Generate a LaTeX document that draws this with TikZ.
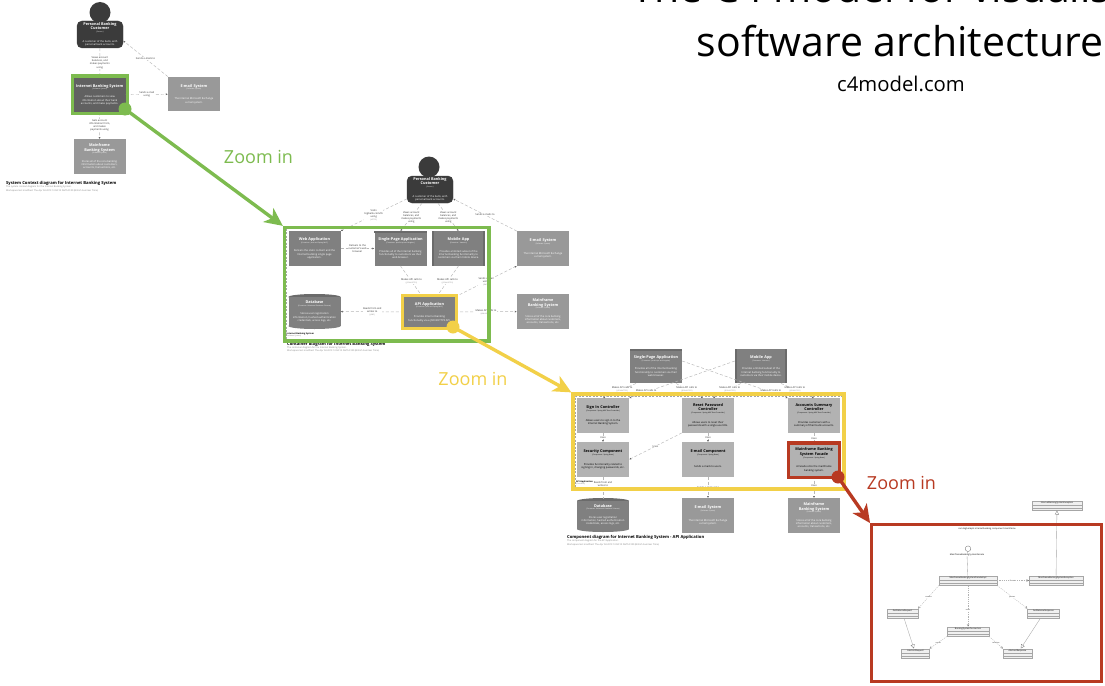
\documentclass[tikz,border=0pt]{standalone}
\usepackage{fontspec}
\setmainfont{Open Sans}
\usetikzlibrary{arrows.meta,fit}

\definecolor{zoomgreen}{HTML}{7DBB4F}
\definecolor{zoomyellow}{HTML}{F2D048}
\definecolor{zoomred}{HTML}{B83A22}
\definecolor{linegrey}{HTML}{B8B8B8}

% text inside a C4 box: name, type, description
\newcommand{\cfour}[3]{\spaceskip=0pt\xspaceskip=0pt{\fontsize{3.8}{4.5}\selectfont\bfseries #1\par}%
    {\fontsize{1.7}{2.6}\selectfont [#2]\par}\vspace{1.5pt}%
    \parbox{.88\hsize}{\centering\fontsize{2.6}{3.4}\selectfont #3\par}}
\newcommand{\edgetext}[2]{#1\\{\fontsize{1.7}{2.2}\selectfont\color{gray}[#2]}}
\newcommand{\capttext}[3]{\spaceskip=0pt\xspaceskip=0pt{\fontsize{4.15}{5}\selectfont\bfseries #1\par}%
    {\fontsize{2.3}{3.1}\selectfont\color{gray}#2\par #3\par}}

\tikzset{
    cbox/.style = {rectangle, inner sep=1pt, text width=49pt, align=center,
        minimum width=52pt, minimum height=34.5pt, text=white},
    personbox/.style = {cbox, fill=black!77, draw=black!77, rounded corners=5pt,
        minimum width=46pt, minimum height=27pt, text width=42pt},
    head/.style = {circle, fill=black!77, minimum size=21pt, inner sep=0pt},
    mainbox/.style = {cbox, fill=black!62},
    appbox/.style = {cbox, fill=black!50},
    extbox/.style = {cbox, fill=black!40},
    compbox/.style = {cbox, fill=black!30, text=black},
    dbbox/.style = {cbox, fill=black!50, minimum height=29pt},
    dbtop/.style = {fill=black!58},
    dbbottom/.style = {fill=black!50},
    rel/.style = {draw=linegrey, line width=0.45pt, dash pattern=on 3pt off 2pt,
        -{Latex[length=2pt,width=2pt,color=black!60]}},
    reltext/.style = {fill=white, inner sep=0.3pt, align=center, text=black!80,
        font=\fontsize{2.5}{3.1}\selectfont},
    bound/.style = {draw=black!35, fill=none, line width=0.4pt, dash pattern=on 2pt off 1.5pt},
    boundtext/.style = {anchor=north west, inner sep=0pt, align=left, font=\fontsize{2.2}{2.6}\selectfont},
    capt/.style = {anchor=north west, inner sep=0pt, align=left, text width=170pt},
    frm/.style = {draw=#1, fill=none, line width=3.2pt},
    dot/.style = {circle, fill=#1, minimum size=13pt, inner sep=0pt},
    zoomarrow/.style = {draw=#1, line width=3.4pt, -{Stealth[length=18pt,width=17pt,inset=5pt]}},
    zoomtext/.style = {text=#1, font=\fontsize{18}{20}\selectfont, inner sep=0pt},
    umlclass/.style = {draw=black!35, fill=black!6, line width=0.3pt, inner xsep=0.8pt, inner ysep=0.6pt,
        minimum width=#1, font=\fontsize{2.1}{2.5}\selectfont, text height=1.9pt, text depth=6.6pt,
        path picture={
            \draw[black!35, line width=0.25pt]
                ([yshift=-4.6pt]path picture bounding box.north west) -- ([yshift=-4.6pt]path picture bounding box.north east)
                ([yshift=-7.6pt]path picture bounding box.north west) -- ([yshift=-7.6pt]path picture bounding box.north east);}},
    umluse/.style = {draw=black!30, line width=0.3pt, dash pattern=on 1.2pt off 1pt, -{Straight Barb[length=2pt,width=2pt,color=black!60]}},
    umlinherit/.style = {draw=black!35, line width=0.35pt, -{Triangle[open,fill=white,length=4pt,width=4pt,color=black!50]}},
    umltext/.style = {fill=white, inner sep=0.2pt, text=black!80, font=\fontsize{1.9}{2.3}\selectfont}
}

\begin{document}
\begin{tikzpicture}[x=1pt,y=-1pt]
\clip (0,0) rectangle (1105,685);
\fill[white] (0,0) rectangle (1105,685);

% headline
\node[inner sep=0pt, align=center, font=\fontsize{41}{54}\selectfont] (headline) at (900,14) {The C4 model for visualising\\software architecture};
\node[inner sep=0pt, font=\fontsize{20.3}{24}\selectfont] (site) at (901,84) {c4model.com};

% system context
\node[head] (headA) at (100,12.5) {};
\node[personbox] (custA) at (100,34.5) {\cfour{Personal Banking Customer}{Person}{A customer of the bank, with personal bank accounts.}};
\node[mainbox] (ibsA) at (99.7,94.8) {\cfour{Internet Banking System}{Software System}{Allows customers to view information about their bank accounts, and make payments.}};
\node[extbox] (mailA) at (194,94) {\cfour{E-mail System}{Software System}{The internal Microsoft Exchange e-mail system.}};
\node[extbox] (mfA) at (99.5,156.5) {\cfour{Mainframe Banking System}{Software System}{Stores all of the core banking information about customers, accounts, transactions, etc.}};
\draw[rel] (custA) -- node[reltext] {Views account\\balances, and\\makes payments\\using} (ibsA);
\draw[rel] (ibsA) -- node[reltext] {Sends e-mail\\using} (mailA);
\draw[rel] (ibsA) -- node[reltext] {Gets account\\information from,\\and makes\\payments using} (mfA);
\draw[rel] (mailA.north west) -- node[reltext] {Sends e-mails to} (custA.-15);
\node[capt] (captA) at (6,181.5) {\capttext{System Context diagram for Internet Banking System}{The system context diagram for the Internet Banking System.}{Workspace last modified: Thu Apr 04 2019 13:04:10 GMT+0100 (British Summer Time)}};

% containers
\node[head] (headB) at (429,167) {};
\node[personbox] (custB) at (430,189.5) {\cfour{Personal Banking Customer}{Person}{A customer of the bank, with personal bank accounts.}};
\node[appbox] (webB) at (314.5,248.5) {\cfour{Web Application}{Container: Java and Spring MVC}{Delivers the static content and the Internet banking single page application.}};
\node[appbox] (spaB) at (400.5,248.5) {\cfour{Single-Page Application}{Container: JavaScript and Angular}{Provides all of the Internet banking functionality to customers via their web browser.}};
\node[appbox] (mobB) at (458.5,248.5) {\cfour{Mobile App}{Container: Xamarin}{Provides a limited subset of the Internet banking functionality to customers via their mobile device.}};
\node[extbox] (mailB) at (543,248.5) {\cfour{E-mail System}{Software System}{The internal Microsoft Exchange e-mail system.}};
\fill[dbtop] (314.5,297) ellipse [x radius=26pt, y radius=3pt];
\fill[dbbottom] (314.5,326) ellipse [x radius=26pt, y radius=3pt];
\node[dbbox] (dbB) at (314.5,311.5) {\cfour{Database}{Container: Relational Database Schema}{Stores user registration information, hashed authentication credentials, access logs, etc.}};
\node[appbox, minimum width=51pt, minimum height=30pt] (apiB) at (429.5,312) {\cfour{API Application}{Container: Java and Spring MVC}{Provides Internet banking functionality via a JSON/HTTPS API.}};
\node[extbox] (mfB) at (543,311.5) {\cfour{Mainframe Banking System}{Software System}{Stores all of the core banking information about customers, accounts, transactions, etc.}};
\draw[rel] (custB.-158) -- node[reltext] {Visits\\bigbank.com/ib\\using\\{\fontsize{1.7}{2.2}\selectfont\color{gray}[HTTPS]}} (webB.north east);
\draw[rel] ([xshift=-8pt]custB.south) -- node[reltext] {Views account\\balances, and\\makes payments\\using} (spaB.north);
\draw[rel] ([xshift=8pt]custB.south) -- node[reltext] {Views account\\balances, and\\makes payments\\using} (mobB.north);
\draw[rel] (mailB.north west) -- node[reltext] {Sends e-mails to} (custB.-22);
\draw[rel] (webB) -- node[reltext] {Delivers to the\\customer's web\\browser} (spaB);
\draw[rel] (spaB.south) -- node[reltext] {\edgetext{Makes API calls to}{JSON/HTTPS}} ([xshift=-7pt]apiB.north);
\draw[rel] (mobB.south) -- node[reltext] {\edgetext{Makes API calls to}{JSON/HTTPS}} ([xshift=7pt]apiB.north);
\draw[rel] (apiB.north east) -- node[reltext] {Sends e-mail\\using\\{\fontsize{1.7}{2.2}\selectfont\color{gray}[SMTP]}} (mailB.south west);
\draw[rel] (apiB) -- node[reltext] {Reads from and\\writes to\\{\fontsize{1.7}{2.2}\selectfont\color{gray}[JDBC]}} (dbB);
\draw[rel] (apiB) -- node[reltext] {\edgetext{Makes API calls to}{XML/HTTPS}} (mfB);
% browser bar and phone edges
\fill[black!58] (spaB.north west) rectangle ([yshift=-2.4pt]spaB.north east);
\fill[black!58] (mobB.north west) rectangle ([xshift=2pt]mobB.south west);
\fill[black!58] (mobB.north east) rectangle ([xshift=-2pt]mobB.south east);
\node[bound, minimum width=201pt, minimum height=112pt] (sysB) at (386.5,284) {};
\node[boundtext] (sysBtext) at (286.5,332.5) {\textbf{Internet Banking System}\\{\fontsize{1.7}{2.2}\selectfont\color{gray}[Software System]}};
\node[capt] (captB) at (287,342) {\capttext{Container diagram for Internet Banking System}{The container diagram for the Internet Banking System.}{Workspace last modified: Thu Apr 04 2019 13:04:10 GMT+0100 (British Summer Time)}};

% components
\node[appbox] (spaC) at (656,366) {\cfour{Single-Page Application}{Container: JavaScript and Angular}{Provides all of the Internet banking functionality to customers via their web browser.}};
\node[appbox] (mobC) at (761,366) {\cfour{Mobile App}{Container: Xamarin}{Provides a limited subset of the Internet banking functionality to customers via their mobile device.}};
\node[compbox] (signC) at (603,415.5) {\cfour{Sign In Controller}{Component: Spring MVC Rest Controller}{Allows users to sign in to the Internet Banking System.}};
\node[compbox] (resetC) at (708,415.5) {\cfour{Reset Password Controller}{Component: Spring MVC Rest Controller}{Allows users to reset their passwords with a single use URL.}};
\node[compbox] (accC) at (814,415.5) {\cfour{Accounts Summary Controller}{Component: Spring MVC Rest Controller}{Provides customers with a summary of their bank accounts.}};
\node[compbox] (secC) at (603,459.5) {\cfour{Security Component}{Component: Spring Bean}{Provides functionality related to signing in, changing passwords, etc.}};
\node[compbox] (sendC) at (708,459.5) {\cfour{E-mail Component}{Component: Spring Bean}{Sends e-mails to users.}};
\node[compbox, minimum width=48pt, minimum height=31pt, text width=45pt] (facC) at (814,460) {\cfour{Mainframe Banking System Facade}{Component: Spring Bean}{A facade onto the mainframe banking system.}};
\fill[dbtop] (603,501) ellipse [x radius=26pt, y radius=3pt];
\fill[dbbottom] (603,529) ellipse [x radius=26pt, y radius=3pt];
\node[dbbox, minimum height=28pt] (dbC) at (603,515) {\cfour{Database}{Container: Relational Database Schema}{Stores user registration information, hashed authentication credentials, access logs, etc.}};
\node[extbox] (mailC) at (708,515.5) {\cfour{E-mail System}{Software System}{The internal Microsoft Exchange e-mail system.}};
\node[extbox] (mfC) at (814,515.5) {\cfour{Mainframe Banking System}{Software System}{Stores all of the core banking information about customers, accounts, transactions, etc.}};
\fill[black!58] (spaC.north west) rectangle ([yshift=-2.4pt]spaC.north east);
\fill[black!58] (mobC.north west) rectangle ([xshift=2pt]mobC.south west);
\fill[black!58] (mobC.north east) rectangle ([xshift=-2pt]mobC.south east);
\draw[rel] ([xshift=-20pt]spaC.south) -- node[reltext, pos=.42] {\edgetext{Makes API calls to}{JSON/HTTPS}} (signC.north);
\draw[rel] ([xshift=20pt]spaC.south) -- node[reltext, pos=.4] {\edgetext{Makes API calls to}{JSON/HTTPS}} ([xshift=-5pt]resetC.north);
\draw[rel] ([yshift=5pt]spaC.east) -- node[reltext, pos=.84] {\edgetext{Makes API calls to}{JSON/HTTPS}} (accC.north west);
\draw[rel] ([xshift=-20pt]mobC.south) -- node[reltext, pos=.4] {\edgetext{Makes API calls to}{JSON/HTTPS}} ([xshift=5pt]resetC.north);
\draw[rel] ([yshift=5pt]mobC.west) -- node[reltext, pos=.84] {\edgetext{Makes API calls to}{JSON/HTTPS}} (signC.north east);
\draw[rel] ([xshift=20pt]mobC.south) -- node[reltext, pos=.42] {\edgetext{Makes API calls to}{JSON/HTTPS}} (accC.north);
\draw[rel] (signC) -- node[reltext] {Uses} (secC);
\draw[rel] (resetC.south west) -- node[reltext] {Uses} (secC.east);
\draw[rel] (resetC) -- node[reltext] {Uses} (sendC);
\draw[rel] (accC) -- node[reltext] {Uses} (facC);
\draw[rel] (secC) -- node[reltext, pos=.35] {Reads from and\\writes to\\{\fontsize{1.7}{2.2}\selectfont\color{gray}[JDBC]}} (dbC);
\draw[rel] (sendC) -- node[reltext] {Sends e-mail using} (mailC);
\draw[rel] (facC) -- node[reltext] {Uses\\{\fontsize{1.7}{2.2}\selectfont\color{gray}[XML/HTTPS]}} (mfC);
\node[bound, minimum width=267pt, minimum height=91pt] (sysC) at (708.5,441.5) {};
\node[boundtext] (sysCtext) at (576,480.5) {\textbf{API Application}\\{\fontsize{1.7}{2.2}\selectfont\color{gray}[Container]}};
\node[capt] (captC) at (567,535.5) {\capttext{Component diagram for Internet Banking System - API Application}{The component diagram for the API Application.}{Workspace last modified: Thu Apr 04 2019 13:04:10 GMT+0100 (British Summer Time)}};

% code
\node[umlclass=50pt] (excTop) at (1057,505.5) {InternetBankingSystemException};
\node[inner sep=0pt, font=\fontsize{2.2}{2.6}\selectfont] (pkgname) at (987,529) {com.bigbankplc.internetbanking.component.mainframe};
\node[circle, draw=black!60, fill=white, minimum size=5.6pt, inner sep=0pt, line width=0.3pt] (lolly) at (968,548.7) {};
\node[inner sep=0pt, fill=white, font=\fontsize{2.2}{2.6}\selectfont] (lollytext) at (967,555) {MainframeBankingSystemFacade};
\node[umlclass=58pt] (implD) at (968,580.5) {MainframeBankingSystemFacadeImpl};
\node[umlclass=54pt] (excD) at (1056,580.5) {MainframeBankingSystemException};
\node[umlclass=31pt] (reqD) at (902.5,613.5) {GetBalanceRequest};
\node[umlclass=32pt] (respD) at (1043.5,613.5) {GetBalanceResponse};
\node[umlclass=42pt] (connD) at (968,631.5) {BankingSystemConnection};
\node[umlclass=28pt] (absreqD) at (915.5,653.5) {AbstractRequest};
\node[umlclass=29pt] (absrespD) at (1017.5,653.5) {AbstractResponse};
\draw[draw=black!35, line width=0.35pt] (lolly) -- (lollytext);
\draw[draw=black!35, line width=0.35pt] (lollytext) -- (implD);
\draw[umlinherit] (excD) -- (excTop);
\draw[umluse] (implD) -- node[umltext] {throws} (excD);
\draw[umluse] (implD.south west) -- node[umltext] {creates} (reqD.north east);
\draw[umluse] (implD.south east) -- node[umltext] {parses} (respD.north west);
\draw[umluse] (implD) -- node[umltext, pos=.6] {uses} (connD);
\draw[umluse] (connD.south west) -- node[umltext] {sends} (absreqD.north east);
\draw[umluse] (connD.south east) -- node[umltext] {receives} (absrespD.north west);
\draw[umlinherit] (reqD) -- (absreqD);
\draw[umlinherit] (respD) -- (absrespD);

% zoom frames and arrows
\node[frm=zoomgreen, fit=(ibsA), inner sep=1.4pt] (frameA) {};
\node[frm=zoomgreen, minimum width=204.5pt, minimum height=113.5pt] (frameB) at (386.7,284.2) {};
\node[frm=zoomyellow, fit=(apiB), inner sep=1.4pt] (frameC) {};
\node[frm=zoomyellow, minimum width=271pt, minimum height=95pt] (frameD) at (708.5,441.5) {};
\node[frm=zoomred, fit=(facC), inner sep=1.4pt] (frameE) {};
\node[frm=zoomred, line width=3.4pt, minimum width=229.5pt, minimum height=156.5pt] (frameF) at (986.5,603) {};
\node[dot=zoomgreen] (dotA) at (125,109) {};
\node[dot=zoomyellow] (dotB) at (453,327) {};
\node[dot=zoomred] (dotC) at (838,477) {};
\draw[zoomarrow=zoomgreen] (dotA.center) -- (frameB.north west);
\draw[zoomarrow=zoomyellow] (dotB.center) -- (frameD.north west);
\draw[zoomarrow=zoomred] (dotC.center) -- (frameF.north west);
\node[zoomtext=zoomgreen] (zoomA) at (258.5,157) {Zoom in};
\node[zoomtext=zoomyellow] (zoomB) at (473,379) {Zoom in};
\node[zoomtext=zoomred] (zoomC) at (901.5,483) {Zoom in};
\end{tikzpicture}
\end{document}
